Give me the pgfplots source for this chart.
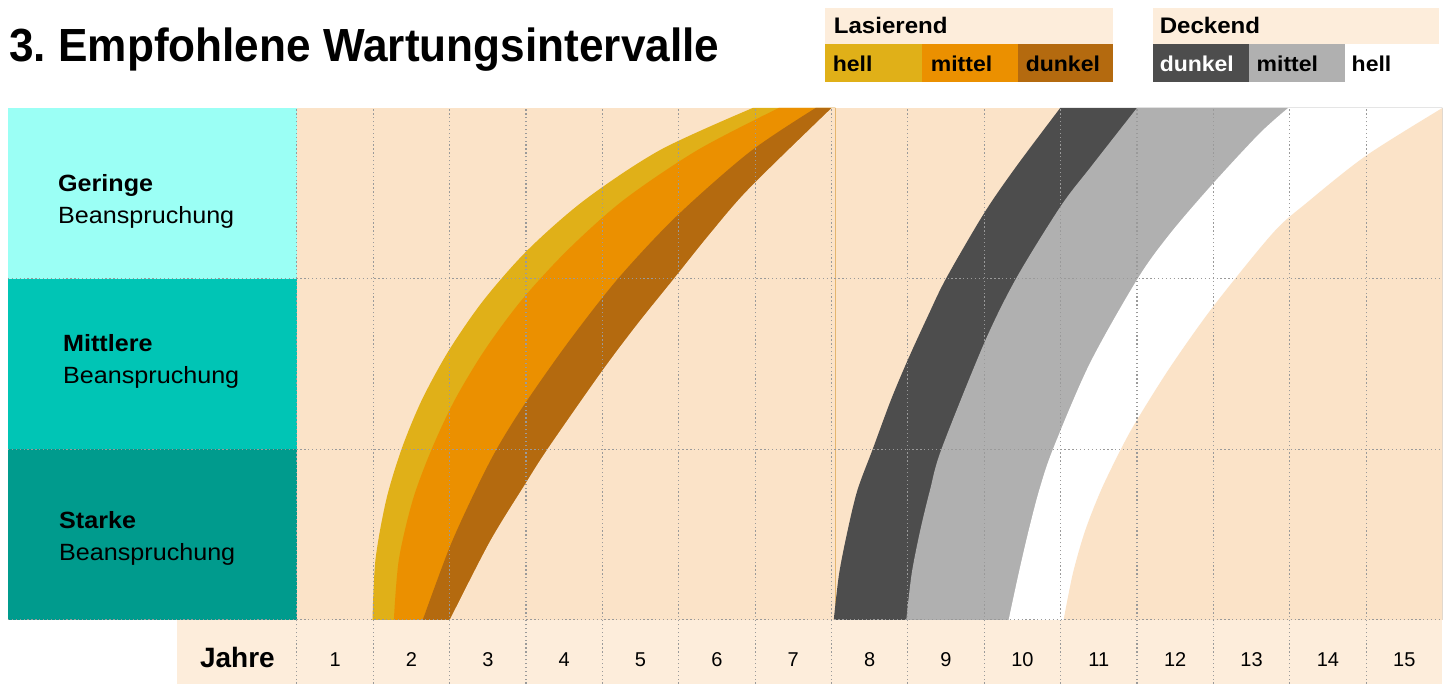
\documentclass[border=0pt]{standalone}
\usepackage{fontspec}
\setmainfont{Liberation Sans}[FakeStretch=1.07]
\newfontfamily\titlefont{Liberation Sans}[FakeStretch=0.95]
\newfontfamily\numfont{Liberation Sans}
\usepackage{pgfplots}
\pgfplotsset{compat=1.18}
\definecolor{peach}{HTML}{FBE3C8}
\definecolor{peachlt}{HTML}{FDEDDB}
\definecolor{cyanA}{HTML}{9BFFF5}
\definecolor{tealB}{HTML}{00C5B5}
\definecolor{tealC}{HTML}{009B8D}
\definecolor{lyellow}{HTML}{E0B018}
\definecolor{lorange}{HTML}{EB9000}
\definecolor{lbrown}{HTML}{B46A0F}
\definecolor{ddark}{HTML}{4D4D4D}
\definecolor{dmid}{HTML}{B0B0B0}
\definecolor{gridc}{HTML}{9A9A9A}
\tikzset{gl/.style={gridc, line width=1.1pt, dash pattern=on 1.3pt off 2.6pt}}
\begin{document}
\begin{tikzpicture}[x=1pt,y=1pt]
\path (-297,-64) rectangle (1146,620);
% title
\node[anchor=base west, inner sep=0, font=\titlefont\fontsize{46.5}{54}\selectfont\bfseries] at (-288,558) {3.\hspace{-4pt} Empfohlene Wartungsintervalle};
% legend Lasierend
\fill[peachlt] (528,576) rectangle (816,612);
\fill[lyellow] (528,538) rectangle (625,576);
\fill[lorange] (625,538) rectangle (721,576);
\fill[lbrown] (721,538) rectangle (816,576);
\node[anchor=base west, inner sep=0, font=\fontsize{22.5}{26}\selectfont\bfseries] at (537,586) {Lasierend};
\node[anchor=base west, inner sep=0, font=\fontsize{21.5}{26}\selectfont\bfseries] at (536,548) {hell};
\node[anchor=base west, inner sep=0, font=\fontsize{21.5}{26}\selectfont\bfseries] at (634,548) {mittel};
\node[anchor=base west, inner sep=0, font=\fontsize{21.5}{26}\selectfont\bfseries] at (729,548) {dunkel};
% legend Deckend
\fill[peachlt] (856,576) rectangle (1143,612);
\fill[ddark] (856,538) rectangle (952,576);
\fill[dmid] (952,538) rectangle (1048,576);
\fill[white] (1048,538) rectangle (1143,576);
\node[anchor=base west, inner sep=0, font=\fontsize{22.5}{26}\selectfont\bfseries] at (863,586) {Deckend};
\node[anchor=base west, inner sep=0, text=white, font=\fontsize{21.5}{26}\selectfont\bfseries] at (863,548) {dunkel};
\node[anchor=base west, inner sep=0, font=\fontsize{21.5}{26}\selectfont\bfseries] at (960,548) {mittel};
\node[anchor=base west, inner sep=0, font=\fontsize{21.5}{26}\selectfont\bfseries] at (1055,548) {hell};
% left panels
\fill[cyanA] (-289,341) rectangle (0,512);
\fill[tealB] (-289,171) rectangle (0,341);
\fill[tealC] (-289,0) rectangle (0,171);
\node[anchor=base west, inner sep=0, font=\fontsize{23.5}{28}\selectfont\bfseries] at (-239,428) {Geringe};
\node[anchor=base west, inner sep=0, font=\fontsize{23.5}{28}\selectfont] at (-239,396) {Beanspruchung};
\node[anchor=base west, inner sep=0, font=\fontsize{23.5}{28}\selectfont\bfseries] at (-234,268) {Mittlere};
\node[anchor=base west, inner sep=0, font=\fontsize{23.5}{28}\selectfont] at (-234,236) {Beanspruchung};
\node[anchor=base west, inner sep=0, font=\fontsize{23.5}{28}\selectfont\bfseries] at (-238,91) {Starke};
\node[anchor=base west, inner sep=0, font=\fontsize{23.5}{28}\selectfont] at (-238,59) {Beanspruchung};
% bottom strip
\fill[peachlt] (-120,-64) rectangle (1146,0);
\node[anchor=base west, inner sep=0, font=\numfont\fontsize{28}{32}\selectfont\bfseries] at (-97,-48) {Jahre};
\begin{axis}[
  at={(0,0)}, anchor=south west,
  scale only axis, width=1146pt, height=512pt,
  xmin=0, xmax=15, ymin=0, ymax=3,
  axis line style={draw=none},
  axis background/.style={fill=peach},
  ytick=\empty,
  xtick={0.5,1.5,...,14.5},
  xticklabels={1,2,3,4,5,6,7,8,9,10,11,12,13,14,15},
  major tick length=0pt,
  xticklabel style={font=\numfont\fontsize{20}{24}\selectfont, anchor=base, yshift=-47pt, inner sep=0pt},
  clip=false,
]
% Lasierend: each layer fills the region right of its curve, later layers on top
\addplot[fill=lyellow, draw=none, smooth] coordinates {(0.99,0) (1.029,0.352) (1.170,0.703) (1.372,1.002) (1.637,1.289) (1.995,1.582) (2.448,1.875) (3.024,2.168) (3.770,2.461) (4.759,2.754) (5.969,3.0)} -- (axis cs:7.05,3) -- (axis cs:7.05,0) -- cycle;
\addplot[fill=lorange, draw=none, smooth] coordinates {(1.270,0) (1.335,0.352) (1.518,0.703) (1.767,1.002) (2.068,1.289) (2.461,1.582) (2.945,1.875) (3.547,2.168) (4.280,2.461) (5.249,2.754) (6.309,3.0)} -- (axis cs:7.05,3) -- (axis cs:7.05,0) -- cycle;
\addplot[fill=lbrown, draw=none, smooth] coordinates {(1.649,0) (2.003,0.428) (2.343,0.762) (2.618,1.002) (2.958,1.248) (3.547,1.623) (4.202,1.998) (4.961,2.361) (5.929,2.742) (6.793,3.0)} -- (axis cs:7.05,3) -- (axis cs:7.05,0) -- cycle;
\addplot[fill=peach, draw=none, smooth] coordinates {(2.003,0) (2.526,0.457) (2.984,0.791) (3.285,1.002) (3.979,1.447) (4.450,1.728) (4.935,1.998) (5.419,2.268) (5.929,2.531) (7.003,3.0)} -- (axis cs:7.05,3) -- (axis cs:7.05,0) -- cycle;
% Deckend
\addplot[fill=ddark, draw=none, smooth] coordinates {(7.03,0) (7.10,0.27) (7.21,0.52) (7.34,0.76) (7.54,1.0) (7.78,1.29) (8.0,1.524) (8.26,1.778) (8.50,2.0) (9.0,2.384) (9.42,2.657) (9.995,3.0)} -- (axis cs:15,3) -- (axis cs:15,0) -- cycle;
\addplot[fill=dmid, draw=none, smooth] coordinates {(7.98,0) (8.05,0.27) (8.16,0.52) (8.29,0.76) (8.44,1.0) (9.0,1.622) (9.417,2.0) (10.0,2.423) (10.4,2.657) (11.0,3.0)} -- (axis cs:15,3) -- (axis cs:15,0) -- cycle;
\addplot[fill=white, draw=none, smooth] coordinates {(9.32,0) (9.45,0.27) (9.58,0.52) (9.72,0.76) (9.90,1.0) (10.38,1.5) (11.01,2.0) (11.44,2.267) (12.0,2.559) (12.609,2.852) (12.98,3.0)} -- (axis cs:15,3) -- (axis cs:15,0) -- cycle;
\addplot[fill=peach, draw=none, smooth] coordinates {(10.04,0) (10.16,0.27) (10.32,0.52) (10.53,0.76) (10.79,1.0) (11.0,1.171) (11.44,1.484) (12.0,1.837) (12.78,2.267) (13.22,2.443) (14.0,2.72) (15.0,3.0)} -- (axis cs:15,0) -- cycle;
% grid
\pgfplotsinvokeforeach{0,...,14}{\draw[gl] (axis cs:#1,-0.375) -- (axis cs:#1,3);}
\pgfplotsinvokeforeach{0,1,2}{\draw[gl] (axis cs:-3.783,#1) -- (axis cs:15,#1);}
\end{axis}
\end{tikzpicture}
\end{document}
